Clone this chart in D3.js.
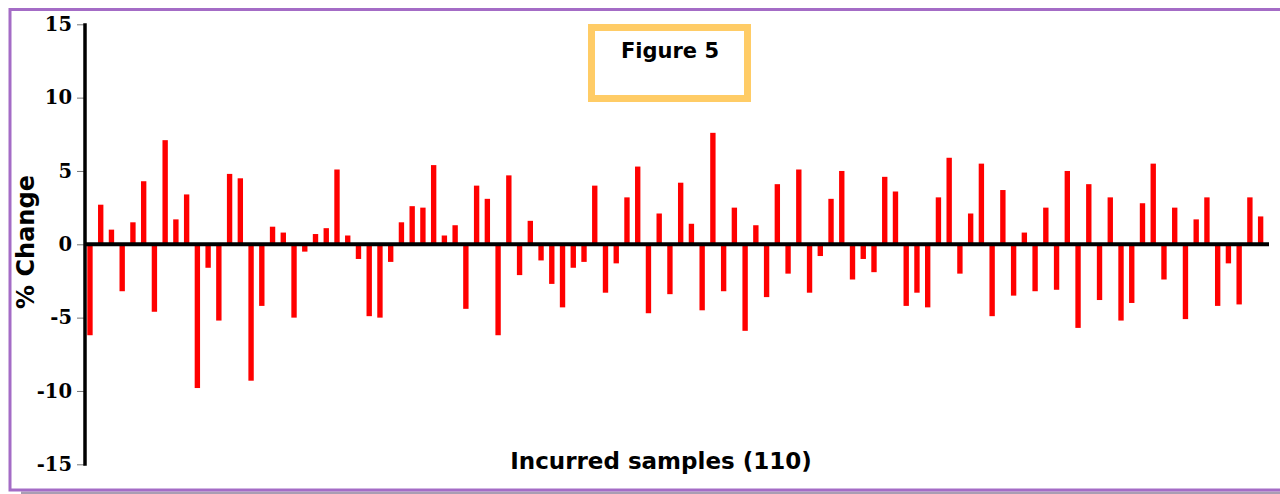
<!DOCTYPE html>
<html>
<head>
<meta charset="utf-8">
<script src="https://cdn.jsdelivr.net/npm/d3@7"></script>
<style>
html,body{margin:0;padding:0;background:#fff;overflow:hidden;}
svg{display:block;}
</style>
</head>
<body>
<svg id="chart" width="1280" height="494"></svg>
<script>
// ---- data ----
const sampleLabels = d3.range(1, 111).map(String);
const pctChange = [
 -6.2, 2.7, 1.0, -3.2, 1.5, 4.3, -4.6, 7.1, 1.7, 3.4,
 -9.8, -1.6, -5.2, 4.8, 4.5, -9.3, -4.2, 1.2, 0.8, -5.0,
 -0.5, 0.7, 1.1, 5.1, 0.6, -1.0, -4.9, -5.0, -1.2, 1.5,
 2.6, 2.5, 5.4, 0.6, 1.3, -4.4, 4.0, 3.1, -6.2, 4.7,
 -2.1, 1.6, -1.1, -2.7, -4.3, -1.6, -1.2, 4.0, -3.3, -1.3,
 3.2, 5.3, -4.7, 2.1, -3.4, 4.2, 1.4, -4.5, 7.6, -3.2,
 2.5, -5.9, 1.3, -3.6, 4.1, -2.0, 5.1, -3.3, -0.8, 3.1,
 5.0, -2.4, -1.0, -1.9, 4.6, 3.6, -4.2, -3.3, -4.3, 3.2,
 5.9, -2.0, 2.1, 5.5, -4.9, 3.7, -3.5, 0.8, -3.2, 2.5,
 -3.1, 5.0, -5.7, 4.1, -3.8, 3.2, -5.2, -4.0, 2.8, 5.5,
 -2.4, 2.5, -5.1, 1.7, 3.2, -4.2, -1.3, -4.1, 3.2, 1.9
];
const yTicks = [-15, -10, -5, 0, 5, 10, 15];
const yTickLabels = ["-15", "-10", "-5", "0", "5", "10", "15"];
const chartTitle = "Figure 5";
const xTitle = "Incurred samples (110)";
const yTitle = "% Change";

// ---- drawing ----
const svg = d3.select("#chart");

// frame
svg.append("rect").attr("x", 21).attr("y", 491.5).attr("width", 1270).attr("height", 3)
  .attr("fill", "#a99db3");
svg.append("rect").attr("x", 10).attr("y", 9.5).attr("width", 1290).attr("height", 480.5)
  .attr("fill", "#fff").attr("stroke", "#a46cc6").attr("stroke-width", 3);

const x = d3.scaleBand().domain(sampleLabels).range([84.6, 1266])
  .paddingInner(0.5).paddingOuter(0.25);
const y = d3.scaleLinear().domain([-15, 15]).range([464.3, 24.3]);

// bars
svg.append("g").selectAll("rect").data(pctChange).join("rect")
  .attr("x", (d, i) => x(sampleLabels[i]))
  .attr("width", x.bandwidth())
  .attr("y", d => y(Math.max(0, d)))
  .attr("height", d => Math.abs(y(d) - y(0)))
  .attr("fill", "#ff0000");

// y axis
const yAxis = svg.append("g").attr("transform", "translate(85,0)")
  .call(d3.axisLeft(y).tickValues(yTicks).tickSize(8).tickPadding(5)
    .tickFormat(d => yTickLabels[yTicks.indexOf(d)]));
yAxis.select(".domain").remove();
yAxis.selectAll(".tick line").attr("stroke", "#777").attr("stroke-width", 1);
yAxis.selectAll(".tick text")
  .attr("font-family", "'DejaVu Serif', serif").attr("font-weight", "bold")
  .attr("font-size", 19.5).attr("fill", "#000");
svg.append("line").attr("x1", 85).attr("x2", 85).attr("y1", y(15) - 1).attr("y2", y(-15) + 1.5)
  .attr("stroke", "#000").attr("stroke-width", 3.5);

// zero line
svg.append("line").attr("x1", 85).attr("x2", 1269).attr("y1", y(0)).attr("y2", y(0))
  .attr("stroke", "#000").attr("stroke-width", 4);

// axis titles
svg.append("text").attr("transform", "translate(34," + 242 + ") rotate(-90)")
  .attr("text-anchor", "middle").attr("font-family", "'DejaVu Sans', Verdana, sans-serif")
  .attr("font-weight", "bold").attr("font-size", 24).attr("fill", "#000").text(yTitle);
svg.append("text").attr("x", 661).attr("y", 469)
  .attr("text-anchor", "middle").attr("font-family", "'DejaVu Sans', Verdana, sans-serif")
  .attr("font-weight", "bold").attr("font-size", 23).attr("fill", "#000").text(xTitle);

// title box
svg.append("rect").attr("x", 591.5).attr("y", 27.5).attr("width", 156).attr("height", 71)
  .attr("fill", "#fff").attr("stroke", "#ffcc66").attr("stroke-width", 7);
svg.append("text").attr("x", 670).attr("y", 58)
  .attr("text-anchor", "middle").attr("font-family", "'DejaVu Sans', Verdana, sans-serif")
  .attr("font-weight", "bold").attr("font-size", 21).attr("fill", "#000").text(chartTitle);
</script>
</body>
</html>
